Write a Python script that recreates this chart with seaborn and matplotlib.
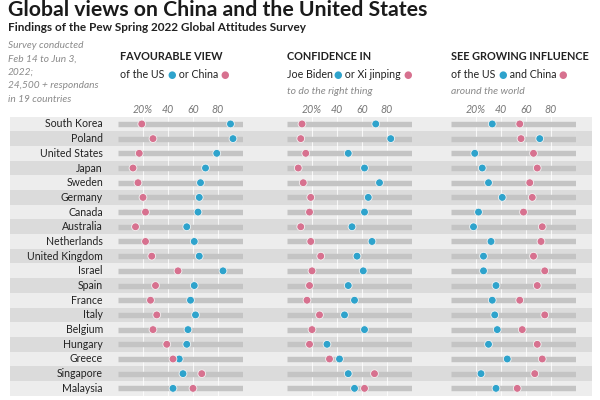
import matplotlib
matplotlib.use("Agg")
import matplotlib.pyplot as plt
import seaborn as sns
import pandas as pd
import numpy as np
from matplotlib.offsetbox import TextArea, HPacker, AnnotationBbox

countries = ["South Korea", "Poland", "United States", "Japan", "Sweden", "Germany",
             "Canada", "Australia", "Netherlands", "United Kingdom", "Israel", "Spain",
             "France", "Italy", "Belgium", "Hungary", "Greece", "Singapore", "Malaysia"]

fav_us =    [90, 92, 79, 70, 66, 65, 64, 55, 61, 65, 84, 61, 58, 62, 56, 55, 49, 52, 44]
fav_china = [19, 28, 17, 12, 16, 20, 22, 14, 22, 27, 48, 30, 26, 31, 28, 39, 44, 67, 60]

conf_biden = [71, 83, 49, 62, 74, 65, 62, 52, 68, 56, 61, 49, 54, 46, 62, 32, 42, 49, 54]
conf_xi =    [12, 11, 15, 9, 13, 19, 18, 11, 19, 27, 20, 18, 16, 26, 20, 18, 34, 70, 62]

infl_us =    [33, 71, 19, 25, 30, 41, 22, 18, 32, 26, 26, 36, 33, 35, 37, 30, 45, 24, 36]
infl_china = [55, 56, 66, 69, 63, 65, 58, 73, 72, 66, 75, 69, 55, 75, 57, 69, 73, 67, 53]

tick_vals = [20, 40, 60, 80]
tick_labels = ["20%", "40", "60", "80"]

BLUE = "#2ea3cc"
PINK = "#d7718f"
TRACK = "#c4c4c4"
BAND_LIGHT = "#ededed"
BAND_DARK = "#dbdbdb"
FONT = ["Lato", "DejaVu Sans"]

sns.set_theme(style="white")
plt.rcParams["font.family"] = FONT

fig = plt.figure(figsize=(6, 4), dpi=100)
W, H = 600.0, 400.0

row_top_px, row_bot_px = 116.6, 395.7
ax_bottom = (H - row_bot_px) / H
ax_height = (row_bot_px - row_top_px) / H

# background row bands
ax_bg = fig.add_axes([10 / W, ax_bottom, 582 / W, ax_height])
band_colors = [BAND_LIGHT if i % 2 == 0 else BAND_DARK for i in range(len(countries))]
ax_bg.barh(np.arange(len(countries)), [1] * len(countries), height=1.0,
           color=band_colors, linewidth=0)
ax_bg.set_xlim(0, 1)
ax_bg.set_ylim(len(countries) - 0.5, -0.5)
ax_bg.axis("off")

# country labels
for i, c in enumerate(countries):
    ax_bg.text(93 / 582, i, c, ha="right", va="center", fontsize=7.6, color="#222222")

panels = [
    (118, fav_us, fav_china),
    (287, conf_biden, conf_xi),
    (451, infl_us, infl_china),
]

for left_px, us_vals, cn_vals in panels:
    ax = fig.add_axes([left_px / W, ax_bottom, 125 / W, ax_height])
    ax.set_facecolor("none")
    for v in [20, 40, 60, 80, 100]:
        ax.axvline(v, color="white", lw=0.8, alpha=0.8, zorder=0)
    ax.hlines(np.arange(len(countries)), 0, 100, color=TRACK, lw=3.9, zorder=1)
    df = pd.DataFrame({
        "country": countries * 2,
        "value": us_vals + cn_vals,
        "who": ["US"] * len(countries) + ["China"] * len(countries),
    })
    sns.stripplot(data=df, x="value", y="country", hue="who", order=countries,
                  hue_order=["China", "US"], palette={"US": BLUE, "China": PINK},
                  jitter=False, size=5.6, linewidth=0.6, edgecolor="#f4f4f4",
                  ax=ax, legend=False, zorder=3, clip_on=False)
    ax.set_xlim(0, 100)
    ax.set_ylim(len(countries) - 0.5, -0.5)
    ax.set_xlabel("")
    ax.set_ylabel("")
    ax.set_yticks([])
    ax.xaxis.tick_top()
    ax.set_xticks(tick_vals)
    ax.set_xticklabels(tick_labels, fontsize=7.6, style="italic", color="#777777")
    ax.tick_params(axis="x", length=0, pad=1.5)
    for s in ax.spines.values():
        s.set_visible(False)

# titles
fig.text(8 / W, 1 - 16 / H, "Global views on China and the United States",
         fontsize=15.3, fontweight="bold", color="#1a1a1a", ha="left", va="baseline")
fig.text(8 / W, 1 - 31 / H, "Findings of the Pew Spring 2022 Global Attitudes Survey",
         fontsize=8.5, fontweight="bold", color="#222222", ha="left", va="baseline")

note_lines = ["Survey conducted", "Feb 14 to Jun 3,", "2022;", "24,500 + respondans",
              "in 19 countries"]
for k, line in enumerate(note_lines):
    fig.text(8 / W, 1 - (46 + k * 13.3) / H, line, fontsize=7.3, style="italic",
             color="#8a8a8a", ha="left", va="center")

headers = [
    (120, "FAVOURABLE VIEW", ["of the US ", "●", " or China ", "●"], None),
    (287, "CONFIDENCE IN", ["Joe Biden", "●", " or Xi jinping ", "●"], "to do the right thing"),
    (451, "SEE GROWING INFLUENCE", ["of the US ", "●", " and China ", "●"], "around the world"),
]
for x_px, head, parts, sub in headers:
    fig.text(x_px / W, 1 - 57 / H, head, fontsize=7.8, fontweight="bold",
             color="#222222", ha="left", va="center")
    areas = []
    for j, p in enumerate(parts):
        if p == "●":
            col = BLUE if j == 1 else PINK
            areas.append(TextArea(p, textprops=dict(color=col, fontsize=7.0,
                                                    family=["DejaVu Sans"])))
        else:
            areas.append(TextArea(p, textprops=dict(color="#222222", fontsize=7.7,
                                                    family=FONT)))
    pack = HPacker(children=areas, align="center", pad=0, sep=0)
    ab = AnnotationBbox(pack, (x_px / W, 1 - 75 / H), xycoords="figure fraction",
                        box_alignment=(0, 0.5), frameon=False, pad=0)
    fig.add_artist(ab)
    if sub:
        fig.text(x_px / W, 1 - 91 / H, sub, fontsize=7.5, style="italic",
                 color="#8a8a8a", ha="left", va="center")

fig.savefig("out.png", dpi=100, facecolor="white")
